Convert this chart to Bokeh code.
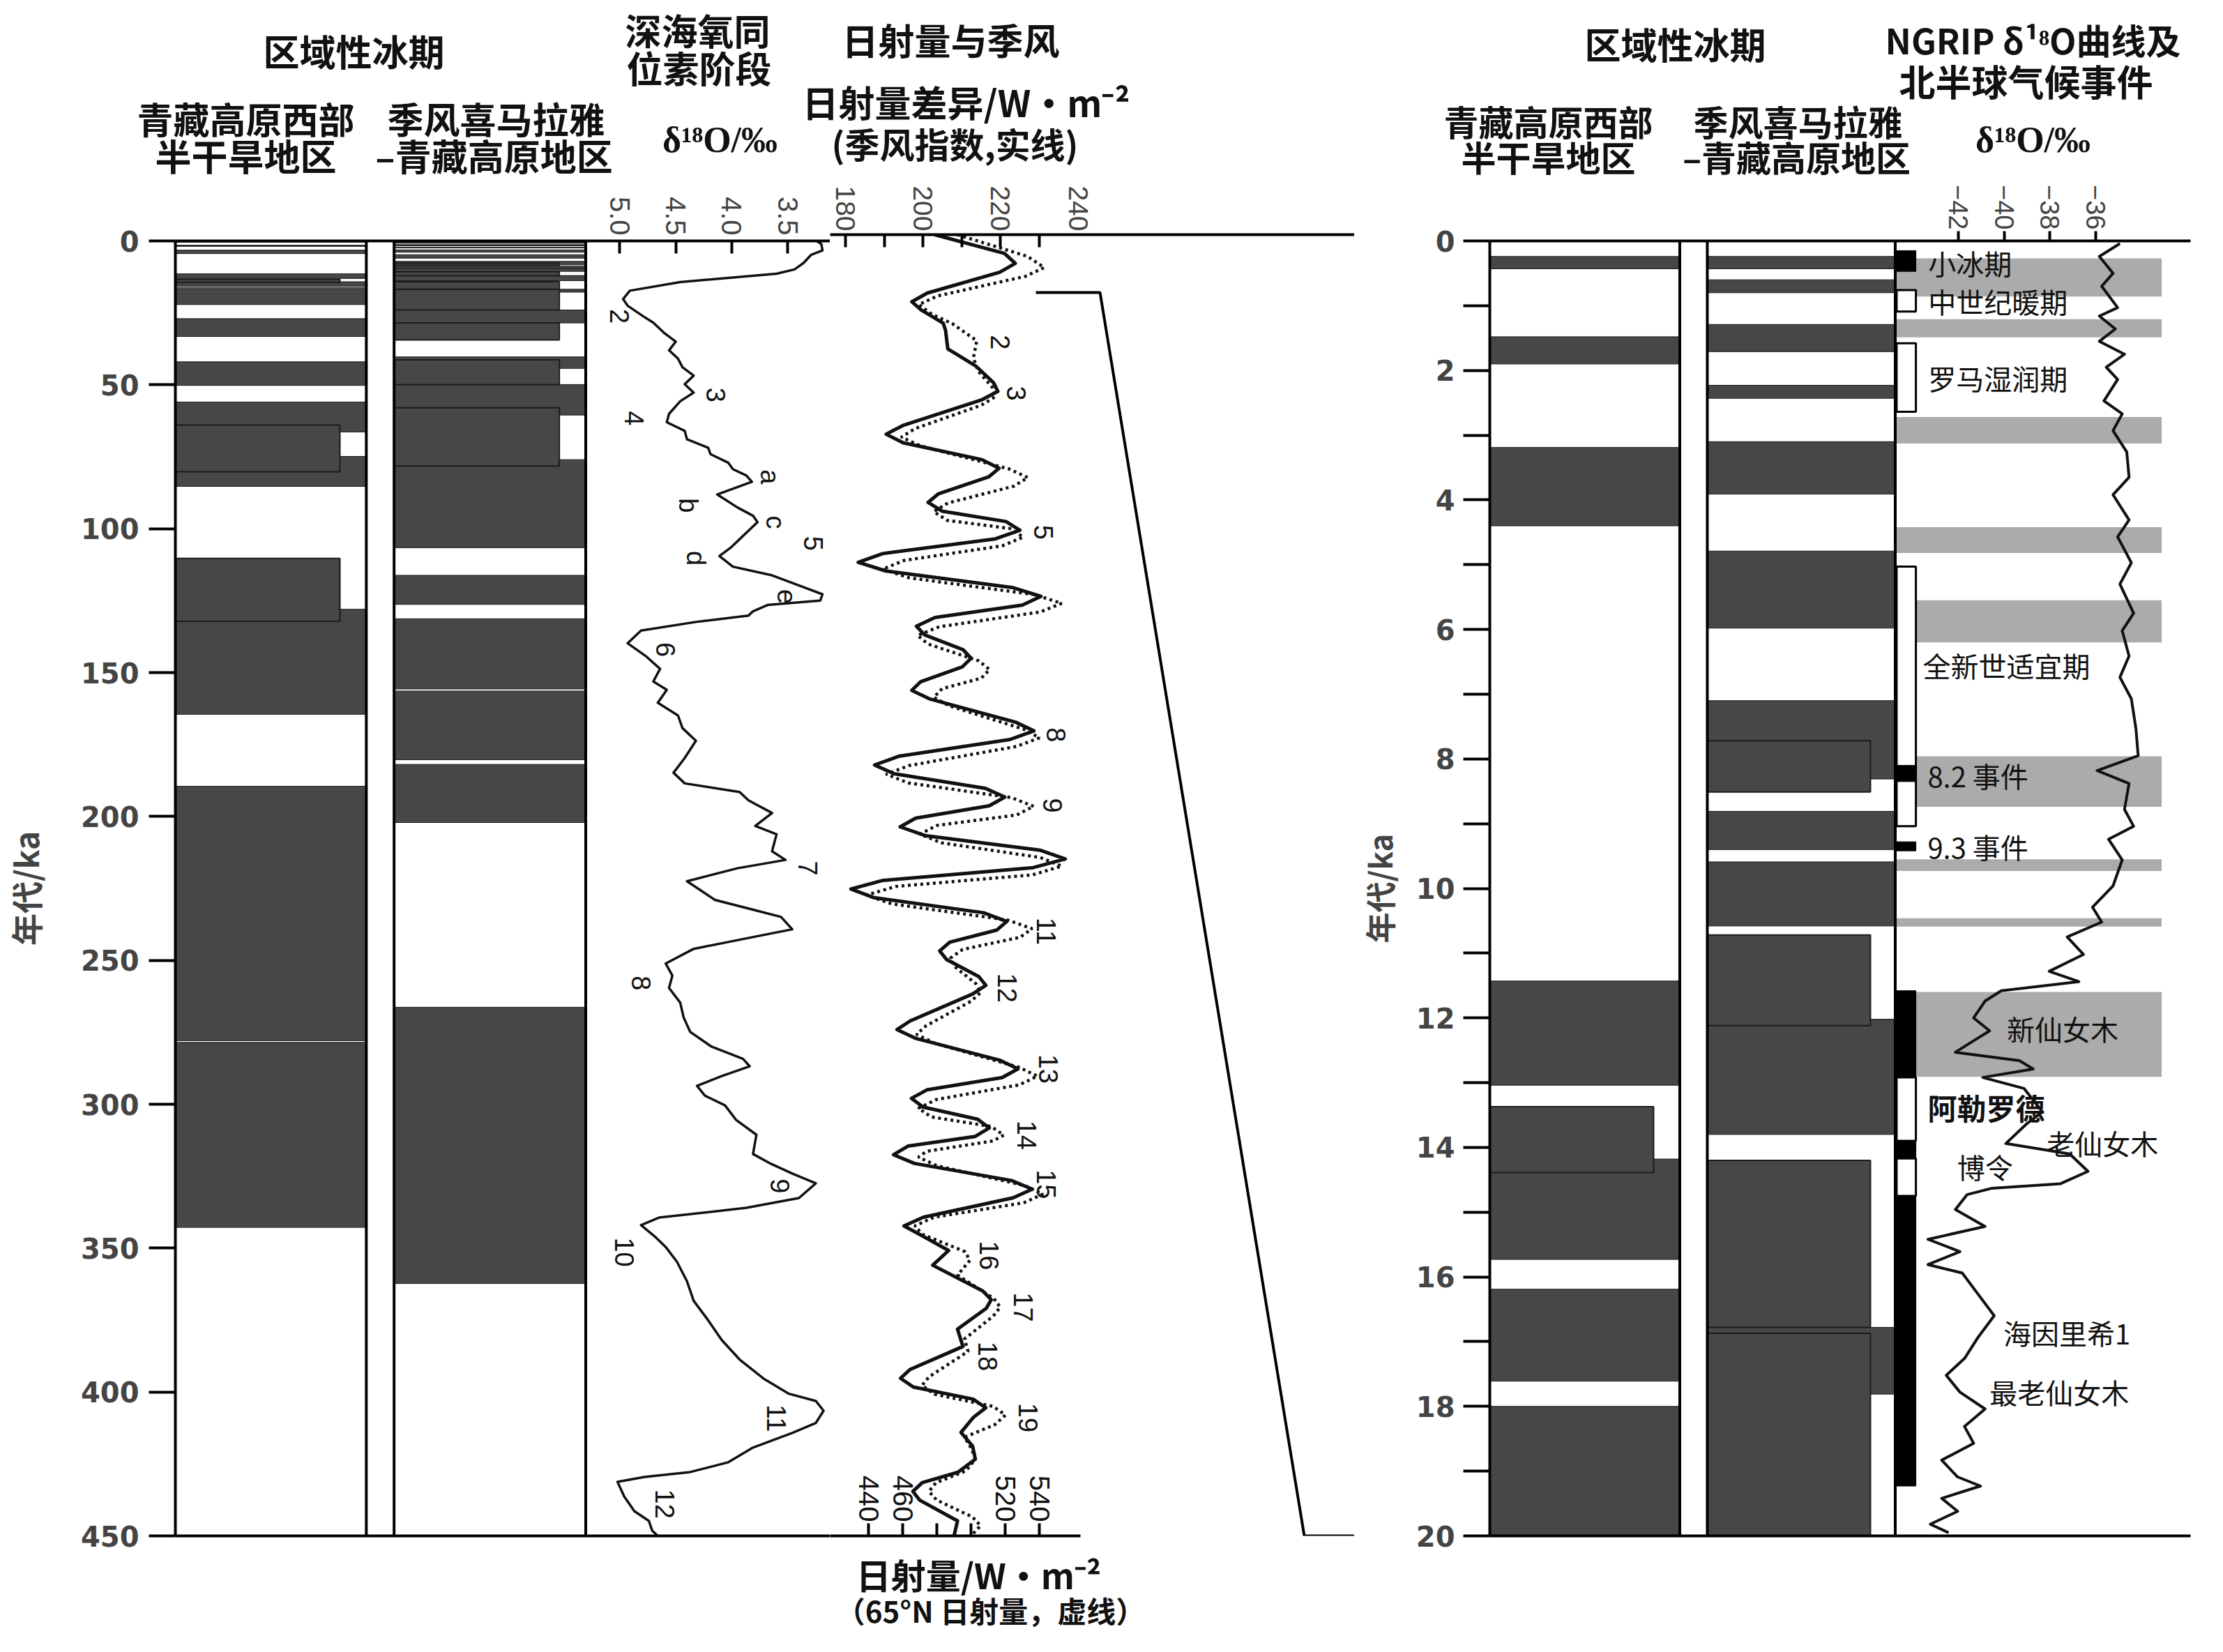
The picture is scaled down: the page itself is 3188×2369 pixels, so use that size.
import math
from bokeh.plotting import figure
from bokeh.models import Range1d, LinearAxis, FixedTicker, Span
from bokeh.layouts import row, column
from bokeh.embed import file_html
from bokeh.resources import INLINE
from bokeh.core.properties import value

# ------------------------------------------------------------------ data
LEFT_AGE_MAX = 450
RIGHT_AGE_MAX = 20
AGE_TICKS_LEFT = list(range(0, 451, 50))
AGE_TICKS_RIGHT = list(range(0, 21, 2))
AGE_MINOR_RIGHT = list(range(1, 20, 2))
D18O_TICKS = [5.0, 4.5, 4.0, 3.5]
MON_TICKS = [180, 200, 220, 240]
MON_MINOR_TICKS = [180, 190, 200, 210, 220, 230]
INS_TICKS = [440, 460, 480, 500, 520, 540]
INS_TICK_LABELS = [440, 460, 520, 540]
NGRIP_TICKS = [-42, -40, -38, -36]

# regional glaciations, 0-450 ka (top, bottom in ka)
WTP_FULL_450 = [(0.24, 0.43), (1.48, 1.90), (3.19, 4.40), (11.43, 13.04), (14.18, 15.73),
                (16.19, 17.61), (18.0, 22.1), (27.0, 33.2), (42.0, 50.2), (56.0, 66.4),
                (74.9, 85.3), (128.0, 164.5), (189.5, 277.9), (278.5, 342.8)]
WTP_INSET_450 = [(13.37, 14.39), (64.0, 80.2), (110.3, 132.2)]
MH_FULL_450 = [(0.24, 0.43), (0.60, 0.80), (1.29, 1.71), (2.23, 2.43), (3.10, 3.91),
               (4.79, 5.98), (7.10, 8.31), (8.81, 9.40), (9.59, 10.58), (12.02, 13.80),
               (16.78, 17.81), (24.0, 28.5), (40.3, 44.3), (49.9, 60.5), (76.0, 106.6),
               (116.2, 126.3), (131.3, 155.7), (156.4, 180.3), (181.9, 202.1), (266.3, 362.3)]
MH_INSET_450 = [(7.72, 8.51), (10.72, 12.12), (14.20, 16.78), (16.87, 24.0), (28.5, 34.4),
                (41.3, 49.9), (58.0, 78.2)]

# regional glaciations, 0-20 ka
WTP_FULL_20 = [(0.24, 0.43), (1.48, 1.90), (3.19, 4.40), (11.43, 13.04), (14.18, 15.73),
               (16.19, 17.61), (18.0, 20.0)]
WTP_INSET_20 = [(13.37, 14.39)]
MH_FULL_20 = [(0.24, 0.43), (0.60, 0.80), (1.29, 1.71), (2.23, 2.43), (3.10, 3.91),
              (4.79, 5.98), (7.10, 8.31), (8.81, 9.40), (9.59, 10.58), (12.02, 13.80),
              (16.78, 17.81)]
MH_INSET_20 = [(7.72, 8.51), (10.72, 12.12), (14.20, 16.78), (16.87, 20.0)]

# benthic d18O stack (age ka, permil)
D18O = [(0, 3.24), (1.1, 3.20), (3.3, 3.19), (4.8, 3.29), (7.7, 3.36), (9.9, 3.44), (11.4, 3.60),
        (14.3, 4.46), (17.3, 4.91), (20.2, 4.97), (22.5, 4.93), (26.2, 4.79), (28.4, 4.70),
        (32.1, 4.60), (35.0, 4.50), (38.0, 4.56), (40.9, 4.48), (43.9, 4.44), (46.8, 4.34),
        (49.8, 4.42), (52.7, 4.34), (55.7, 4.46), (60.1, 4.56), (63.0, 4.58), (66.0, 4.42),
        (68.9, 4.40), (71.9, 4.21), (74.1, 4.19), (77.1, 4.03), (79.3, 3.99), (81.5, 3.87),
        (83.7, 3.82), (88.1, 4.13), (92.6, 3.95), (95.5, 3.81), (97.7, 3.77), (102.9, 3.91),
        (106.6, 4.01), (109.5, 4.11), (113.2, 3.99), (116.2, 3.64), (120.6, 3.34), (122.8, 3.19),
        (125.0, 3.21), (126.5, 3.68), (128.7, 3.81), (130.2, 3.85), (132.4, 4.32), (135.4, 4.81),
        (139.8, 4.93), (144.2, 4.77), (148.7, 4.64), (153.1, 4.70), (156.0, 4.58), (160.5, 4.66),
        (164.9, 4.48), (169.3, 4.44), (173.7, 4.32), (179.7, 4.42), (184.8, 4.52), (188.5, 4.42),
        (191.5, 3.93), (194.4, 3.85), (198.8, 3.64), (203.3, 3.79), (206.2, 3.60), (212.1, 3.64),
        (215.1, 3.52), (218.0, 3.95), (222.5, 4.40), (225.6, 4.28), (229.0, 4.15), (232.4, 3.81),
        (234.9, 3.56), (239.2, 3.46), (242.6, 3.90), (246.0, 4.34), (251.1, 4.59), (255.3, 4.53),
        (259.6, 4.56), (264.7, 4.46), (269.8, 4.43), (274.9, 4.37), (280.0, 4.18), (284.2, 3.90),
        (286.8, 3.84), (290.2, 4.09), (293.6, 4.31), (297.0, 4.24), (300.4, 4.06), (305.5, 3.96),
        (310.6, 3.78), (317.3, 3.81), (320.7, 3.65), (324.1, 3.46), (327.5, 3.25), (332.6, 3.40),
        (336.0, 3.87), (339.4, 4.65), (342.0, 4.81), (346.2, 4.68), (349.6, 4.59), (354.7, 4.49),
        (361.5, 4.40), (368.3, 4.34), (375.1, 4.21), (381.9, 4.09), (388.7, 3.93), (395.5, 3.71),
        (400.6, 3.49), (403.1, 3.25), (406.5, 3.18), (410.8, 3.25), (414.2, 3.46), (419.3, 3.81),
        (424.4, 4.03), (427.8, 4.37), (429.5, 4.78), (431.2, 5.02), (436.3, 4.96), (441.4, 4.87),
        (444.8, 4.74), (448.2, 4.71), (450.0, 4.66)]

# monsoon index, insolation difference W/m2 (solid)
MONSOON = [(0, 203.0), (6.5, 221.0), (9.9, 223.8), (13.0, 219.8), (20.2, 201.1), (23.2, 197.1),
           (26.0, 199.5), (30.6, 205.2), (33.0, 205.8), (39.5, 206.4), (45.4, 213.6), (51.2, 218.2),
           (54.2, 219.3), (57.2, 215.0), (66.0, 194.8), (69.0, 190.5), (72.0, 194.9), (77.8, 215.2),
           (80.8, 219.6), (83.8, 216.9), (89.6, 204.0), (92.6, 201.3), (95.6, 204.9), (99.2, 221.4),
           (102.2, 225.0), (105.2, 218.7), (110.3, 189.6), (113.3, 183.3), (116.3, 190.4),
           (122.1, 223.3), (125.1, 230.4), (128.1, 225.6), (132.4, 203.1), (135.4, 198.3),
           (138.4, 200.4), (143.5, 210.3), (146.5, 212.4), (149.5, 210.1), (154.6, 199.4),
           (157.6, 197.1), (160.6, 201.8), (168.6, 223.9), (171.6, 228.6), (174.6, 222.4),
           (180.4, 193.7), (183.4, 187.5), (186.4, 192.5), (191.5, 216.1), (194.5, 221.1),
           (197.5, 217.1), (201.8, 198.1), (204.8, 194.1), (207.8, 200.5), (212.9, 230.3),
           (215.9, 236.7), (218.9, 228.4), (223.3, 189.7), (226.3, 181.4), (229.3, 187.4),
           (234.5, 215.6), (237.5, 221.6), (240.5, 219.0), (244.7, 206.9), (247.7, 204.3),
           (250.7, 206.1), (256.6, 214.4), (259.6, 216.2), (262.6, 212.8), (271.9, 196.7),
           (274.9, 193.3), (277.9, 198.0), (285.5, 219.8), (288.5, 224.5), (291.5, 220.4),
           (295.7, 201.1), (298.7, 197.0), (301.7, 200.0), (305.9, 214.1), (308.9, 217.1),
           (311.9, 213.4), (315.2, 196.1), (318.2, 192.4), (321.2, 197.8), (327.1, 222.8),
           (330.1, 228.2), (333.1, 223.2), (339.8, 200.1), (342.8, 195.1), (346.0, 199.5),
           (351.3, 206.6), (356.4, 202.5), (365.3, 215.4), (368.3, 217.6), (371.3, 216.3),
           (378.5, 208.9), (384.5, 210.3), (392.5, 196.6), (395.5, 194.2), (398.5, 197.5),
           (402.7, 212.9), (405.7, 216.2), (409.0, 213.0), (414.2, 209.8), (419.0, 212.8),
           (423.5, 213.5), (428.0, 209.0), (431.6, 199.8), (434.6, 197.4), (437.6, 199.1),
           (444.8, 208.9), (450.0, 208.0)]

# 65N insolation W/m2 (dotted)
INSOL65 = [(0, 492.0), (7.5, 533.0), (11.4, 542.9), (14.4, 531.9), (21.2, 480.4), (24.2, 469.4),
           (27.5, 477.0), (30.8, 489.1), (36.7, 503.4), (42.6, 501.4), (47.1, 504.1), (53.0, 512.8),
           (56.0, 514.3), (59.0, 506.0), (67.0, 467.5), (70.0, 459.2), (73.0, 470.3), (81.0, 522.2),
           (84.0, 533.3), (87.0, 525.0), (92.8, 486.5), (95.8, 478.2), (98.8, 486.1), (101.6, 522.7),
           (104.6, 530.6), (107.6, 518.3), (112.7, 460.6), (115.7, 448.3), (118.7, 464.0),
           (124.5, 537.4), (127.5, 553.1), (130.5, 540.4), (135.6, 481.4), (138.6, 468.7),
           (141.6, 475.0), (147.4, 504.6), (150.4, 510.9), (153.4, 506.0), (157.0, 483.1),
           (160.0, 478.2), (163.0, 487.5), (171.0, 530.8), (174.0, 540.1), (177.0, 526.6),
           (183.6, 463.8), (186.6, 450.3), (189.6, 463.3), (194.7, 523.7), (197.7, 536.7),
           (200.7, 526.7), (204.3, 480.1), (207.3, 470.1), (210.3, 482.6), (215.4, 540.6),
           (218.4, 553.1), (221.4, 536.0), (225.4, 456.0), (228.4, 438.8), (231.4, 453.4),
           (237.0, 521.3), (240.0, 535.8), (243.0, 528.6), (247.2, 495.1), (250.2, 487.9),
           (253.2, 490.6), (259.1, 503.0), (262.1, 505.6), (265.1, 500.0), (273.6, 473.7),
           (276.6, 468.1), (279.6, 478.7), (288.0, 528.3), (291.0, 538.9), (294.0, 528.4),
           (299.1, 479.7), (302.1, 469.2), (305.1, 476.7), (308.4, 511.7), (311.4, 519.2),
           (313.4, 513.0), (317.0, 474.0), (319.0, 469.2), (322.0, 480.1), (328.8, 531.2),
           (331.8, 542.1), (334.8, 530.9), (339.8, 478.3), (342.8, 467.1), (345.8, 471.9),
           (351.7, 496.5), (354.7, 499.4), (359.8, 492.1), (367.9, 513.4), (370.9, 517.1),
           (374.0, 513.0), (381.9, 496.2), (386.2, 498.3), (395.0, 475.4), (398.0, 471.3),
           (401.0, 478.6), (405.2, 512.9), (408.2, 520.2), (411.5, 514.0), (415.9, 496.2),
           (420.0, 500.5), (423.5, 502.5), (427.5, 497.0), (431.6, 479.5), (434.6, 475.4),
           (437.6, 479.9), (443.5, 501.0), (446.5, 505.6), (450.0, 500.0)]

# NGRIP d18O (age ka, permil)
NGRIP = [(0.04, -34.93), (0.24, -35.83), (0.50, -35.23), (0.70, -35.73), (1.03, -35.03),
         (1.16, -35.83), (1.36, -35.13), (1.55, -35.83), (1.75, -34.73), (1.95, -35.53),
         (2.14, -35.03), (2.47, -35.63), (2.67, -34.83), (2.93, -35.23), (3.26, -34.63),
         (3.65, -34.53), (3.92, -35.23), (4.31, -34.53), (4.57, -35.03), (4.97, -34.43),
         (5.30, -34.93), (5.75, -34.33), (6.02, -34.83), (6.41, -34.53), (6.74, -34.93),
         (7.07, -34.43), (7.53, -34.23), (7.95, -34.13), (8.18, -35.93), (8.38, -34.53),
         (8.78, -34.73), (9.04, -34.33), (9.24, -35.43), (9.56, -34.83), (9.96, -35.23),
         (10.29, -36.13), (10.52, -35.73), (10.75, -37.24), (11.02, -36.53), (11.28, -38.03),
         (11.44, -36.73), (11.58, -40.13), (11.74, -40.84), (12.00, -41.34), (12.20, -40.64),
         (12.33, -41.24), (12.53, -42.14), (12.66, -39.33), (12.79, -38.73), (12.92, -40.94),
         (13.09, -39.13), (13.45, -38.33), (13.64, -39.03), (13.94, -39.93), (14.10, -37.13),
         (14.37, -36.33), (14.56, -37.53), (14.63, -40.53), (14.73, -41.63), (14.96, -42.14),
         (15.22, -40.84), (15.42, -43.34), (15.61, -41.94), (15.81, -43.34), (15.94, -41.84),
         (16.27, -41.14), (16.60, -40.44), (16.93, -41.14), (17.26, -41.74), (17.52, -42.54),
         (17.78, -41.94), (18.04, -40.84), (18.31, -41.74), (18.57, -41.34), (18.83, -42.74),
         (19.09, -42.04), (19.23, -41.04), (19.42, -42.74), (19.62, -42.04), (19.82, -43.24),
         (19.95, -42.44)]

# northern-hemisphere climate events (ka)
GRAY_EVENTS = [(0.27, 0.86), (1.21, 1.49), (2.72, 3.13), (4.42, 4.82), (5.55, 6.20),
               (7.96, 8.74), (9.55, 9.73), (10.46, 10.59), (11.60, 12.91)]
COLD_EVENTS = [(0.15, 0.47), (8.10, 8.35), (9.28, 9.42), (11.58, 12.92), (13.90, 14.17),
               (14.75, 19.23)]
WARM_EVENTS = [(0.76, 1.09), (1.58, 2.64), (5.03, 9.04), (12.92, 13.90), (14.17, 14.75)]

# curve labels
D18O_LABELS = [("2", 5.00, 26.2), ("3", 4.14, 53.5), ("4", 4.87, 61.6), ("a", 3.66, 82.0),
               ("b", 4.39, 91.9), ("c", 3.61, 97.8), ("5", 3.27, 105.1), ("d", 4.32, 110.3),
               ("e", 3.51, 123.6), ("6", 4.59, 142.0), ("7", 3.32, 218.0), ("8", 4.81, 257.9),
               ("9", 3.57, 328.4), ("10", 4.96, 351.4), ("11", 3.60, 409.1), ("12", 4.60, 438.9)]
MON_LABELS = [("2", 219.9, 37.2), ("3", 224.1, 54.9), ("5", 231.0, 102.9), ("8", 234.3, 173.0),
              ("9", 233.4, 197.4), ("11", 231.8, 240.9), ("12", 221.7, 260.5), ("13", 232.3, 288.5),
              ("14", 226.8, 311.4), ("15", 231.8, 328.4), ("16", 217.1, 353.0), ("17", 225.9, 370.9),
              ("18", 216.7, 387.9), ("19", 227.2, 409.1)]

# ---------------------------------------------------------------- layout (page px)
PAGE = 8
PAGE_R = 3159
HEAD_B = 270                    # bottom of the heading strip
FT, FB = 344, 2210              # frames top / bottom
FOOT_T = 2224                   # top of the caption strip under the insolation panel
PAGE_B = 2361
BT = FT - HEAD_B
A_X0, A_X1 = 255, 1198          # columns + d18O
C_X0, C_X1 = 1198, 1950         # insolation
B_X0, B_X1 = 2131, 3149         # Holocene panel
COL1_L = (255, 530, 492)
COL2_L = (570, 846, 808)
COL1_R = (2131, 2407, 2369)
COL2_R = (2447, 2720, 2684)
EVT_X = (2722, 2750)
GRAY_X = (2722, 3107)

D18O_PX5, D18O_PXU = 895.0, 161.3
MON_PX180, MON_PXU = 1220.0, 5.56
INS_PX440, INS_PXU = 1253.0, 2.45
NG_PX42, NG_PXU = 2812.0, 33.15

def d18o_at(px): return 5.0 - (px - D18O_PX5) / D18O_PXU
def mon_at(px): return 180.0 + (px - MON_PX180) / MON_PXU
def ins_at(px): return 440.0 + (px - INS_PX440) / INS_PXU
def ng_at(px): return -42.0 + (px - NG_PX42) / NG_PXU
def ka_at(py): return (py - FT) / (FB - FT) * LEFT_AGE_MAX
def hol_at(py): return (py - FT) / (FB - FT) * RIGHT_AGE_MAX

DARK, EDGE, GRAY, INK = "#474747", "#1c1c1c", "#ababab", "#111111"
CJK = "Noto Sans CJK SC"
NUM = "DejaVu Sans"

HEAD_TEXT = [  # text, x centre, y centre, size, font, style
    ("区域性冰期", 515, 80, 52, CJK, "bold"),
    ("青藏高原西部", 360, 177, 52, CJK, "bold"),
    ("半干旱地区", 360, 230, 52, CJK, "bold"),
    ("季风喜马拉雅", 719, 177, 52, CJK, "bold"),
    ("–青藏高原地区", 716, 230, 52, CJK, "bold"),
    ("深海氧同", 1008, 50, 52, CJK, "bold"),
    ("位素阶段", 1010, 104, 52, CJK, "bold"),
    ("δ¹⁸O/‰", 1040, 208, 52, "Liberation Serif", "bold"),
    ("日射量与季风", 1371, 64, 52, CJK, "bold"),
    ("日射量差异/W·m⁻²", 1393, 153, 52, CJK, "bold"),
    ("(季风指数,实线)", 1377, 212, 50, CJK, "bold"),
    ("区域性冰期", 2410, 70, 52, CJK, "bold"),
    ("NGRIP δ¹⁸O曲线及", 2923, 63, 50, CJK, "bold"),
    ("北半球气候事件", 2913, 123, 52, CJK, "bold"),
    ("青藏高原西部", 2228, 180, 50, CJK, "bold"),
    ("半干旱地区", 2228, 231, 50, CJK, "bold"),
    ("季风喜马拉雅", 2586, 180, 50, CJK, "bold"),
    ("–青藏高原地区", 2584, 231, 50, CJK, "bold"),
    ("δ¹⁸O/‰", 2923, 208, 52, "Liberation Serif", "bold"),
]
FOOT_TEXT = [
    ("日射量/W·m⁻²", 1411, 2264, 50, CJK, "bold"),
    ("（65°N 日射量，虚线）", 1428, 2316, 42, CJK, "bold"),
]
EVENT_TEXT = [("小冰期", 2768, 376, "normal"), ("中世纪暖期", 2768, 431, "normal"),
              ("罗马湿润期", 2768, 541, "normal"), ("全新世适宜期", 2760, 955, "normal"),
              ("8.2 事件", 2767, 1114, "normal"), ("9.3 事件", 2767, 1217, "normal"),
              ("新仙女木", 2882, 1479, "normal"), ("阿勒罗德", 2767, 1592, "bold"),
              ("老仙女木", 2940, 1644, "normal"), ("博令", 2810, 1678, "normal"),
              ("海因里希1", 2877, 1917, "normal"), ("最老仙女木", 2857, 2003, "normal")]


def new_fig(width, height, xr, yr, bl=0, br=0, bt=0, bb=0):
    p = figure(width=width, height=height, x_range=xr, y_range=yr, x_axis_type=None,
               y_axis_type=None, toolbar_location=None, output_backend="svg",
               min_border_left=bl, min_border_right=br, min_border_top=bt,
               min_border_bottom=bb)
    p.outline_line_color = None
    p.background_fill_color = "white"
    p.border_fill_color = "white"
    return p


def base_axis(ax, lw=4):
    ax.axis_line_width = lw
    ax.axis_line_color = "black"
    ax.major_tick_line_width = lw
    ax.major_tick_line_color = "black"
    ax.minor_tick_line_color = None
    return ax


def plain_axis(p, side):
    ax = base_axis(LinearAxis(ticker=FixedTicker(ticks=[])))
    ax.major_tick_in = 0
    ax.major_tick_out = 0
    ax.major_label_text_color = None
    p.add_layout(ax, side)


def draw_column(p, geom, full, inset):
    x0, x1, xi = geom
    p.quad(left=x0, right=x1, top=[a for a, b in full], bottom=[b for a, b in full],
           fill_color=DARK, line_color=EDGE, line_width=1)
    p.quad(left=x0, right=xi, top=[a for a, b in inset], bottom=[b for a, b in inset],
           fill_color=DARK, line_color=EDGE, line_width=2)


def vline(p, x, lw=4):
    p.add_layout(Span(location=x, dimension="height", line_color="black", line_width=lw))


def texts(p, items, align="center", **kw):
    for t, x, y, size, font, style in items:
        p.text(x=[x], y=[y], text=[t], text_font=value(font), text_font_size=f"{size}px",
               text_font_style=style, text_align=align, text_baseline="middle",
               text_color=INK, **kw)


# ================================================================ heading strip
ph = new_fig(PAGE_R - PAGE, HEAD_B - PAGE, Range1d(PAGE, PAGE_R), Range1d(HEAD_B, PAGE))
texts(ph, HEAD_TEXT)

# ================================================================ A: columns + d18O
pa = new_fig(A_X1 - PAGE, PAGE_B - HEAD_B, Range1d(A_X0, A_X1), Range1d(LEFT_AGE_MAX, 0),
             bl=A_X0 - PAGE, bt=BT, bb=PAGE_B - FB)
pa.extra_x_ranges = {"d18o": Range1d(d18o_at(A_X0), d18o_at(A_X1))}

ya = base_axis(LinearAxis(ticker=FixedTicker(ticks=AGE_TICKS_LEFT), axis_label="年代/ka"))
ya.major_tick_out = 38
ya.major_tick_in = 0
ya.major_label_standoff = 14
ya.major_label_text_font = NUM
ya.major_label_text_font_style = "bold"
ya.major_label_text_font_size = "40px"
ya.axis_label_text_font = CJK
ya.axis_label_text_font_style = "bold"
ya.axis_label_text_font_size = "46px"
ya.axis_label_standoff = 44
pa.add_layout(ya, "left")

ta = base_axis(LinearAxis(x_range_name="d18o", ticker=FixedTicker(ticks=D18O_TICKS)))
ta.major_label_overrides = {t: f"{t:.1f}" for t in D18O_TICKS}
ta.major_label_orientation = -math.pi / 2
ta.major_tick_in = 18
ta.major_tick_out = 0
ta.major_label_standoff = 8
ta.major_label_text_font = "Liberation Sans"
ta.major_label_text_font_size = "40px"
pa.add_layout(ta, "above")
plain_axis(pa, "below")

draw_column(pa, COL1_L, WTP_FULL_450, WTP_INSET_450)
draw_column(pa, COL2_L, MH_FULL_450, MH_INSET_450)
for x in (COL1_L[1], COL2_L[0], COL2_L[1]):
    vline(pa, x)

pa.line(x=[v for a, v in D18O], y=[a for a, v in D18O], x_range_name="d18o",
        line_color=INK, line_width=3.5, line_join="round")
pa.text(x=[v for t, v, a in D18O_LABELS], y=[a for t, v, a in D18O_LABELS],
        text=[t for t, v, a in D18O_LABELS], x_range_name="d18o", angle=-math.pi / 2,
        text_font=value("Liberation Sans"), text_font_size="38px", text_align="center",
        text_baseline="middle", text_color=INK)

# ================================================================ C: insolation
pc = new_fig(C_X1 - C_X0, FOOT_T - HEAD_B, Range1d(mon_at(C_X0), mon_at(C_X1)),
             Range1d(LEFT_AGE_MAX, 0), bt=BT, bb=FOOT_T - FB)
pc.extra_x_ranges = {"ins": Range1d(ins_at(C_X0), ins_at(C_X1))}

tc = base_axis(LinearAxis(ticker=FixedTicker(ticks=MON_TICKS, minor_ticks=MON_MINOR_TICKS)))
tc.major_tick_in = 0
tc.major_tick_out = 0
tc.minor_tick_line_color = "black"
tc.minor_tick_line_width = 4
tc.minor_tick_in = 18
tc.minor_tick_out = 0
tc.major_label_orientation = -math.pi / 2
tc.major_label_standoff = 5
tc.major_label_text_font = "Liberation Sans"
tc.major_label_text_font_size = "39px"
pc.add_layout(tc, "above")

bc = base_axis(LinearAxis(x_range_name="ins", ticker=FixedTicker(ticks=INS_TICKS)))
bc.major_tick_in = 18
bc.major_tick_out = 0
bc.major_label_text_color = None
bc.bounds = (ins_at(C_X0), ins_at(1557))
pc.add_layout(bc, "below")

pc.line(x=[v for a, v in INSOL65], y=[a for a, v in INSOL65], x_range_name="ins",
        line_color=INK, line_width=4.5, line_dash="4 5")
pc.line(x=[v for a, v in MONSOON], y=[a for a, v in MONSOON], line_color=INK,
        line_width=5, line_join="round")
# zoom connector: 20 ka on the 0-450 ka scale to the base of the Holocene panel
pc.line(x=[mon_at(1493), mon_at(1585), mon_at(1878), mon_at(C_X1)],
        y=[RIGHT_AGE_MAX, RIGHT_AGE_MAX, LEFT_AGE_MAX, LEFT_AGE_MAX],
        line_color="black", line_width=4)

pc.text(x=[v for t, v, a in MON_LABELS], y=[a for t, v, a in MON_LABELS],
        text=[t for t, v, a in MON_LABELS], angle=-math.pi / 2,
        text_font=value("Liberation Sans"), text_font_size="38px", text_align="center",
        text_baseline="middle", text_color=INK)
pc.text(x=INS_TICK_LABELS, y=[ka_at(2190)] * len(INS_TICK_LABELS),
        text=[str(v) for v in INS_TICK_LABELS], x_range_name="ins", angle=-math.pi / 2,
        text_font=value("Liberation Sans"), text_font_size="40px", text_align="right",
        text_baseline="middle", text_color=INK)

# caption strip under the insolation panel
pf = new_fig(C_X1 - C_X0, PAGE_B - FOOT_T, Range1d(C_X0, C_X1), Range1d(PAGE_B, FOOT_T))
texts(pf, FOOT_TEXT)

# ================================================================ B: Holocene
pb = new_fig(PAGE_R - C_X1, PAGE_B - HEAD_B, Range1d(B_X0, B_X1), Range1d(RIGHT_AGE_MAX, 0),
             bl=B_X0 - C_X1, br=PAGE_R - B_X1, bt=BT, bb=PAGE_B - FB)
pb.extra_x_ranges = {"ng": Range1d(ng_at(B_X0), ng_at(B_X1))}

yb = base_axis(LinearAxis(ticker=FixedTicker(ticks=AGE_TICKS_RIGHT, minor_ticks=AGE_MINOR_RIGHT),
                          axis_label="年代/ka"))
yb.major_tick_out = 38
yb.major_tick_in = 0
yb.minor_tick_line_color = "black"
yb.minor_tick_line_width = 4
yb.minor_tick_out = 38
yb.minor_tick_in = 0
yb.major_label_standoff = 12
yb.major_label_text_font = NUM
yb.major_label_text_font_style = "bold"
yb.major_label_text_font_size = "40px"
yb.axis_label_text_font = CJK
yb.axis_label_text_font_style = "bold"
yb.axis_label_text_font_size = "44px"
yb.axis_label_standoff = 18
pb.add_layout(yb, "left")

tb = base_axis(LinearAxis(x_range_name="ng", ticker=FixedTicker(ticks=NGRIP_TICKS)))
tb.major_tick_in = 0
tb.major_tick_out = 14
tb.major_label_orientation = -math.pi / 2
tb.major_label_standoff = 2
tb.major_label_text_font = "Liberation Sans"
tb.major_label_text_font_size = "38px"
pb.add_layout(tb, "above")
plain_axis(pb, "below")

draw_column(pb, COL1_R, WTP_FULL_20, WTP_INSET_20)
draw_column(pb, COL2_R, MH_FULL_20, MH_INSET_20)
for x in (COL1_R[1], COL2_R[0], COL2_R[1]):
    vline(pb, x)

pb.quad(left=GRAY_X[0], right=GRAY_X[1], top=[a for a, b in GRAY_EVENTS],
        bottom=[b for a, b in GRAY_EVENTS], fill_color=GRAY, line_color=None)
pb.quad(left=EVT_X[0], right=EVT_X[1], top=[a for a, b in WARM_EVENTS],
        bottom=[b for a, b in WARM_EVENTS], fill_color="white", line_color="black", line_width=3)
pb.quad(left=EVT_X[0], right=EVT_X[1], top=[a for a, b in COLD_EVENTS],
        bottom=[b for a, b in COLD_EVENTS], fill_color="black", line_color="black", line_width=1)
pb.line(x=[v for a, v in NGRIP], y=[a for a, v in NGRIP], x_range_name="ng",
        line_color=INK, line_width=4, line_join="round")

for txt, x, y, st in EVENT_TEXT:
    texts(pb, [(txt, x, hol_at(y), 42 if st == "bold" else 40, CJK, st)], align="left")

layout = column(ph, row(pa, column(pc, pf), pb))
open("out.html", "w").write(file_html(layout, INLINE))
